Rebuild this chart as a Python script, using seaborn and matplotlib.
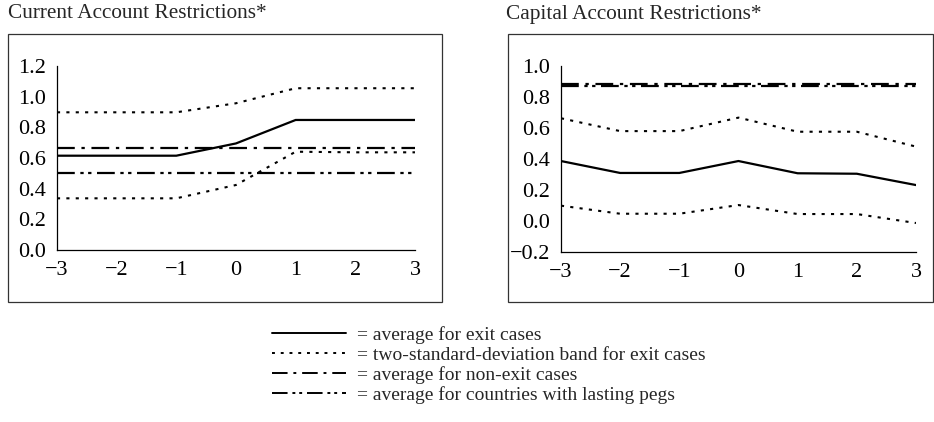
import matplotlib
matplotlib.use("Agg")
import matplotlib.pyplot as plt
import seaborn as sns
from matplotlib.lines import Line2D
from matplotlib.patches import Rectangle

# Data
years = [-3, -2, -1, 0, 1, 2, 3]

cur_exit = [0.615, 0.615, 0.615, 0.695, 0.848, 0.848, 0.848]
cur_upper = [0.898, 0.898, 0.898, 0.957, 1.055, 1.055, 1.055]
cur_lower = [0.337, 0.337, 0.337, 0.424, 0.641, 0.637, 0.637]
cur_nonexit = [0.663] * 7
cur_pegs = [0.50] * 7

cap_exit = [0.387, 0.31, 0.31, 0.387, 0.308, 0.305, 0.232]
cap_upper = [0.663, 0.58, 0.58, 0.667, 0.576, 0.576, 0.48]
cap_lower = [0.099, 0.047, 0.047, 0.103, 0.045, 0.045, -0.013]
cap_nonexit = [0.884] * 7
cap_pegs = [0.873] * 7

legend_labels = ["= average for exit cases",
                 "= two-standard-deviation band for exit cases",
                 "= average for non-exit cases",
                 "= average for countries with lasting pegs"]

sns.set_style("white")
plt.rcParams["font.family"] = ["Liberation Serif", "DejaVu Serif"]

title_fs = 15.3
tick_fs = 16
leg_fs = 14
solid = "-"
dotted = (0, (1.5, 3))
dashdot = (0, (8, 3, 1.5, 3))
dashdotdot = (0, (8, 2.5, 1.5, 2, 1.5, 2.5))

fig = plt.figure(figsize=(9.34, 4.22), dpi=100)

# outer boxes
for x0, w in [(0.0086, 0.4647), (0.5439, 0.4550)]:
    fig.patches.append(Rectangle((x0, 0.2844), w, 0.635, transform=fig.transFigure,
                                 fill=False, edgecolor="#333333", linewidth=0.9))

fig.text(0.0086, 1 - 14 / 422, "Current Account Restrictions*", fontsize=title_fs, va="center", ha="left")
fig.text(0.5418, 1 - 14 / 422, "Capital Account Restrictions*", fontsize=title_fs, va="center", ha="left")

ax1 = fig.add_axes([0.0610, 0.4076, 0.3833, 0.4360])
ax2 = fig.add_axes([0.6006, 0.4028, 0.3801, 0.4408])

def draw(ax, exit_, upper, lower, nonexit, pegs):
    sns.lineplot(x=years, y=exit_, ax=ax, color="black", linestyle=solid, linewidth=1.6)
    sns.lineplot(x=years, y=upper, ax=ax, color="black", linestyle=dotted, linewidth=1.5)
    sns.lineplot(x=years, y=lower, ax=ax, color="black", linestyle=dotted, linewidth=1.5)
    sns.lineplot(x=years, y=nonexit, ax=ax, color="black", linestyle=dashdot, linewidth=1.6)
    sns.lineplot(x=years, y=pegs, ax=ax, color="black", linestyle=dashdotdot, linewidth=1.6)

draw(ax1, cur_exit, cur_upper, cur_lower, cur_nonexit, cur_pegs)
draw(ax2, cap_exit, cap_upper, cap_lower, cap_nonexit, cap_pegs)

for ax, lo, hi in [(ax1, 0.0, 1.2), (ax2, -0.2, 1.0)]:
    ax.set_xlim(-3, 3)
    ax.set_ylim(lo, hi)
    ax.set_xticks(years)
    ax.set_xticklabels(["\u22123", "\u22122", "\u22121", "0", "1", "2", "3"])
    yt = [round(lo + 0.2 * i, 1) for i in range(7)]
    ax.set_yticks(yt)
    ax.set_yticklabels([f"{v:.1f}".replace("-", "\u2212") for v in yt])
    ax.patch.set_alpha(0)
    for s in ["top", "right"]:
        ax.spines[s].set_visible(False)
    for s in ["left", "bottom"]:
        ax.spines[s].set_color("black")
        ax.spines[s].set_linewidth(0.9)
    ax.tick_params(axis="y", direction="inout", length=6, width=0.8, colors="black",
                   labelsize=tick_fs, pad=5)
    ax.tick_params(axis="x", direction="in", length=5, width=0.8, colors="black",
                   labelsize=tick_fs, pad=8)
    ax.set_xlabel("")
    ax.set_ylabel("")

handles = [Line2D([], [], color="black", linestyle=solid, linewidth=1.4),
           Line2D([], [], color="black", linestyle=dotted, linewidth=1.4),
           Line2D([], [], color="black", linestyle=dashdot, linewidth=1.4),
           Line2D([], [], color="black", linestyle=dashdotdot, linewidth=1.4)]
fig.legend(handles, legend_labels, loc="upper left", bbox_to_anchor=(0.291, 1 - 326 / 422),
           frameon=False, fontsize=leg_fs, handlelength=3.8, handletextpad=0.6,
           labelspacing=0.12, borderpad=0, borderaxespad=0)

fig.savefig("out.png", dpi=100)
